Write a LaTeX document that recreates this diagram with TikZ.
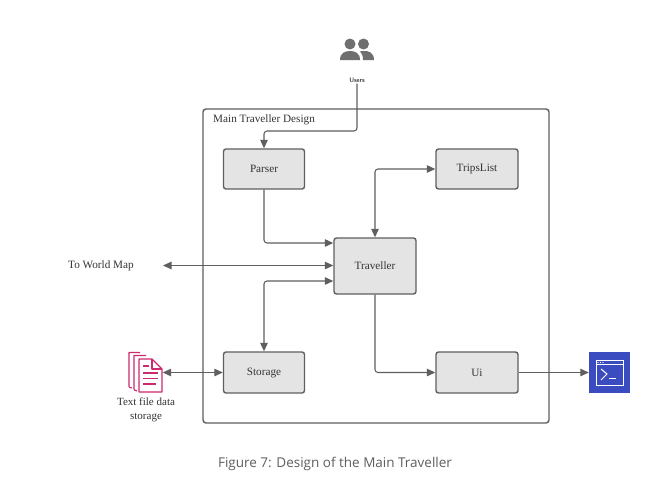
\documentclass[tikz,border=0pt]{standalone}
\usepackage{fontspec}
\setmainfont{Liberation Serif}
\newfontfamily\capfont{Open Sans}
\usetikzlibrary{arrows.meta,calc}
\definecolor{linecol}{HTML}{5F5F5F}
\definecolor{boxfill}{HTML}{E4E4E4}
\definecolor{pinkcol}{HTML}{CC2A6C}
\definecolor{bluecol}{HTML}{3B4CC0}
\definecolor{txtcol}{HTML}{333333}
\tikzset{
  every node/.style={text=txtcol,font=\fontsize{11.2}{13}\selectfont},
  compbox/.style={draw=linecol,line width=1.4pt,fill=boxfill,rounded corners=2.5pt,inner sep=0pt},
  framebox/.style={draw=linecol,line width=1.4pt,rounded corners=3pt,inner sep=0pt},
  conn/.style={draw=linecol,line width=1.05pt,rounded corners=3pt,-{Triangle[length=8.5pt,width=7.5pt]}},
  biconn/.style={conn,{Triangle[length=8.5pt,width=7.5pt]}-{Triangle[length=8.5pt,width=7.5pt]}},
  pinkline/.style={draw=pinkcol,line width=1.1pt,line join=round},
}
\begin{document}
\begin{tikzpicture}[x=1pt,y=-1pt]
\useasboundingbox (0,0) rectangle (650,479);
\fill[white] (0,0) rectangle (650,479);
\node[framebox,minimum width=346pt,minimum height=314pt] (main) at (376,266) {};
\node[anchor=west] (maintitle) at (209.7,120) {Main Traveller Design};
\node[compbox,minimum width=81pt,minimum height=40pt] (parser) at (264,169) {\raisebox{-1pt}{Parser}};
\node[compbox,minimum width=82pt,minimum height=40pt] (trips) at (477,169) {\raisebox{-1pt}{TripsList}};
\node[compbox,minimum width=82pt,minimum height=56pt] (traveller) at (375,266) {\raisebox{-0.5pt}{Traveller}};
\node[compbox,minimum width=81pt,minimum height=41pt] (storage) at (264,372.5) {Storage};
\node[compbox,minimum width=82pt,minimum height=41pt] (ui) at (477,372.5) {Ui};
\node[font=\sffamily\fontsize{6.5}{7}\selectfont,inner sep=1pt,text=black] (users) at (357,80) {Users};
\node (world) at (101,266) {To World Map};
\node[align=center,font=\fontsize{11}{14}\selectfont] (textfile) at (146,410) {Text file data\\storage};
\coordinate (worldend) at (163,265.5);
\coordinate (elbow) at (357,131);
% users icon
\fill[linecol!90] (350,44) circle (5.5pt);
\fill[linecol!90] (363.5,44) circle (5.5pt);
\fill[linecol!90] (340,60) .. controls (340,53) and (345,51) .. (350,51) .. controls (355,51) and (360,53) .. (360,60) -- cycle;
\fill[linecol!90] (362,51) .. controls (369,50) and (374,53) .. (374,60) -- (363,60) .. controls (363,56) and (362,53) .. (360,51.5) -- cycle;
% document icon
\node[inner sep=0pt,minimum width=33pt,minimum height=40pt] (docicon) at (146,372.5) {};
\begin{scope}[pinkline]
  \draw (140,352.5) -- (129,352.5) -- (129,386) .. controls (129,387.5) .. (132,388);
  \draw (146,355.5) -- (134,355.5) -- (134,389) .. controls (134,390) .. (137,391);
  \draw (139,359) -- (152,359) -- (162,369) -- (162,392) -- (139,392) -- cycle;
  \draw (152,359) -- (152,369) -- (162,369);
  \draw (143,366) -- (149,366);
  \draw (143,373) -- (158,373);
  \draw (143,378.5) -- (158,378.5);
  \draw (143,384) -- (156,384);
\end{scope}
% terminal icon
\node[fill=bluecol,inner sep=0pt,minimum width=41pt,minimum height=41pt] (term) at (609.5,372.5) {};
\begin{scope}[draw=white,line width=0.8pt]
  \draw (596,360.5) rectangle (623,385);
  \draw (596,364.5) -- (623,364.5);
  \draw[line width=1pt] (601,369) -- (607,374) -- (601,380);
  \draw[line width=1pt] (609,378.5) -- (616,378.5);
\end{scope}
\fill[white] (598,362.5) circle (0.6pt) (600.5,362.5) circle (0.6pt) (603,362.5) circle (0.6pt);
% connectors
\draw[conn] (users.south) -- (elbow) -| (parser.north);
\draw[conn] (parser.south) |- ($(traveller.west)+(0,-23)$);
\draw[biconn] (trips.west) -| (traveller.north);
\draw[biconn] (worldend) -- (traveller.west |- worldend);
\draw[biconn] ($(traveller.west)+(0,15)$) -| (storage.north);
\draw[conn] (traveller.south) |- (ui.west);
\draw[conn] (ui.east) -- (term.west);
\draw[biconn] (docicon.east) -- (storage.west);
\node[font=\capfont\fontsize{13.5}{15}\selectfont,text=linecol] (caption) at (335,464) {Figure 7: Design of the Main Traveller};
\end{tikzpicture}
\end{document}
